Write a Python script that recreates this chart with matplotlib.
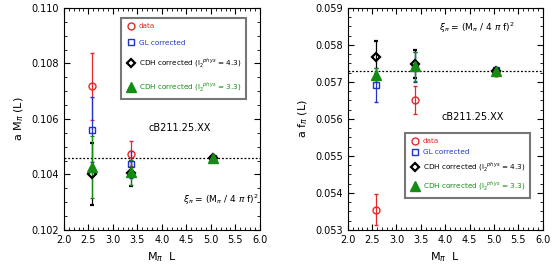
import matplotlib
matplotlib.use('Agg')
import matplotlib.pyplot as plt
from matplotlib.ticker import MultipleLocator
import numpy as np

# volumes M_pi L
mpiL = [2.58, 3.37, 5.04]

# a M_pi(L)
m_data = [0.10717, 0.10474, 0.10460]
m_data_err = [0.00120, 0.00045, 0.00006]
m_gl = [0.10561, 0.10436, 0.10460]
m_gl_err = [0.00117, 0.00048, 0.00006]
m_cdh43 = [0.10402, 0.10404, 0.10458]
m_cdh43_err = [0.00113, 0.00045, 0.00006]
m_cdh33 = [0.10428, 0.10408, 0.10458]
m_cdh33_err = [0.00112, 0.00045, 0.00006]
m_inf = 0.10460

# a f_pi(L)
f_data = [0.05354, 0.05652, 0.05723]
f_data_err = [0.00042, 0.00038, 0.00005]
f_gl = [0.05692, 0.05740, 0.05733]
f_gl_err = [0.00045, 0.00040, 0.00005]
f_cdh43 = [0.05767, 0.05748, 0.05730]
f_cdh43_err = [0.00045, 0.00038, 0.00005]
f_cdh33 = [0.05719, 0.05742, 0.05730]
f_cdh33_err = [0.00020, 0.00040, 0.00005]
f_inf = 0.05730

red = '#e8262a'
blue = '#2233cc'
green = '#148c14'

labels = ['data', 'GL corrected',
          r'CDH corrected (l$_2^{\ \ phys}$ = 4.3)',
          r'CDH corrected (l$_2^{\ \ phys}$ = 3.3)']

plt.rcParams['font.size'] = 7
plt.rcParams['font.family'] = 'DejaVu Sans'

fig = plt.figure(figsize=(5.6, 2.75), dpi=100)
ax1 = fig.add_axes([0.114, 0.164, 0.350, 0.807])
ax2 = fig.add_axes([0.621, 0.164, 0.348, 0.807])


def draw(ax, series, inf):
    styles = [
        dict(fmt='o', color=red, mfc='none', mec=red, ms=5, mew=1.0),
        dict(fmt='s', color=blue, mfc='none', mec=blue, ms=5, mew=1.0),
        dict(fmt='D', color='black', mfc='none', mec='black', ms=4.5, mew=1.6),
        dict(fmt='^', color=green, mfc=green, mec=green, ms=7),
    ]
    handles = []
    for (y, e), st, lab in zip(series, styles, labels):
        h = ax.errorbar(mpiL, y, yerr=e, capsize=1.5, elinewidth=0.9,
                        capthick=0.9, label=lab, **st)
        handles.append(h)
    ax.axhline(inf, color='black', ls=(0, (1.5, 1.5)), lw=0.9, zorder=0)
    ax.set_xlim(2.0, 6.0)
    ax.xaxis.set_major_locator(MultipleLocator(0.5))
    ax.xaxis.set_minor_locator(MultipleLocator(0.1))
    ax.tick_params(which='both', direction='in', top=True, right=True)
    ax.tick_params(which='major', length=4)
    ax.tick_params(which='minor', length=2)
    ax.xaxis.set_major_formatter(matplotlib.ticker.FormatStrFormatter('%.1f'))
    ax.set_xlabel(r'M$_\pi$  L', fontsize=8)
    return handles


def add_legend(ax, handles, loc, anchor, spacing):
    leg = ax.legend(handles=[h[0] for h in handles], labels=labels, loc=loc,
                    bbox_to_anchor=anchor, fontsize=5.2, labelcolor='linecolor',
                    fancybox=False, edgecolor='#777777', framealpha=1,
                    handlelength=1.4, handletextpad=0.4, labelspacing=spacing,
                    borderpad=0.7, borderaxespad=0)
    leg.get_frame().set_linewidth(1.5)


h1 = draw(ax1, [(m_data, m_data_err), (m_gl, m_gl_err),
                (m_cdh43, m_cdh43_err), (m_cdh33, m_cdh33_err)], m_inf)
ax1.set_ylim(0.102, 0.110)
ax1.yaxis.set_major_locator(MultipleLocator(0.002))
ax1.yaxis.set_minor_locator(MultipleLocator(0.0005))
ax1.yaxis.set_major_formatter(matplotlib.ticker.FormatStrFormatter('%.3f'))
ax1.set_ylabel(r'a M$_\pi$ (L)', fontsize=8)
add_legend(ax1, h1, 'upper right', (0.93, 0.955), 1.45)
ax1.text(0.59, 0.46, 'cB211.25.XX', transform=ax1.transAxes, ha='center',
         va='center', fontsize=7)
ax1.text(0.61, 0.135, r'$\xi_\pi$ = (M$_\pi$ / 4 $\pi$ f)$^2$',
         transform=ax1.transAxes, ha='left', va='center', fontsize=6.5)

h2 = draw(ax2, [(f_data, f_data_err), (f_gl, f_gl_err),
                (f_cdh43, f_cdh43_err), (f_cdh33, f_cdh33_err)], f_inf)
ax2.set_ylim(0.053, 0.059)
ax2.yaxis.set_major_locator(MultipleLocator(0.001))
ax2.yaxis.set_minor_locator(MultipleLocator(0.00025))
ax2.yaxis.set_major_formatter(matplotlib.ticker.FormatStrFormatter('%.3f'))
ax2.set_ylabel(r'a f$_\pi$ (L)', fontsize=8)
add_legend(ax2, h2, 'lower right', (0.935, 0.145), 0.7)
ax2.text(0.64, 0.51, 'cB211.25.XX', transform=ax2.transAxes, ha='center',
         va='center', fontsize=7)
ax2.text(0.47, 0.91, r'$\xi_\pi$ = (M$_\pi$ / 4 $\pi$ f)$^2$',
         transform=ax2.transAxes, ha='left', va='center', fontsize=6.5)

fig.savefig('out.png', dpi=100)
